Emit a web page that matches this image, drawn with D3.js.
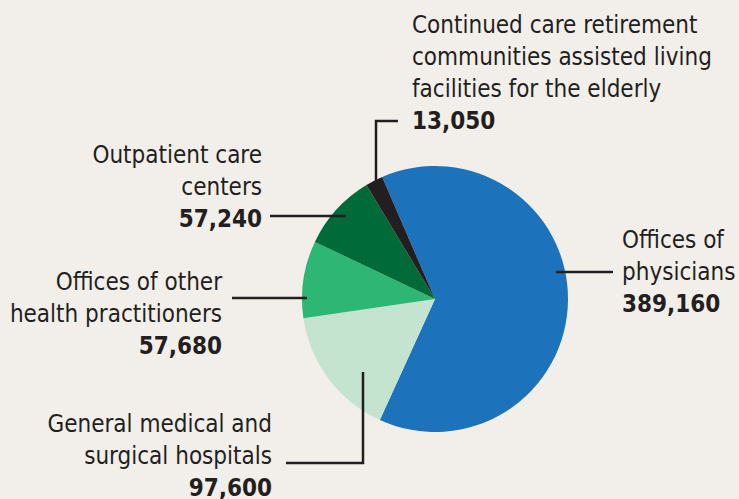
<!DOCTYPE html>
<html>
<head>
<meta charset="utf-8">
<script src="https://cdn.jsdelivr.net/npm/d3@7"></script>
<style>
  html, body { margin: 0; padding: 0; background: #f2efeb; }
  svg text { font-family: "Liberation Sans Narrow", "DejaVu Sans Condensed", sans-serif; fill: #231f20; }
</style>
</head>
<body>
<div id="chart"></div>
<script>
// Data
const categories = [
  "Offices of physicians",
  "General medical and surgical hospitals",
  "Offices of other health practitioners",
  "Outpatient care centers",
  "Continued care retirement communities assisted living facilities for the elderly"
];
const values = [389160, 97600, 57680, 57240, 13050];
const colors = ["#1c73bc", "#c5e4cf", "#2db674", "#006a38", "#231f20"];

// label text lines per slice
const labelLines = [
  ["Offices of", "physicians"],
  ["General medical and", "surgical hospitals"],
  ["Offices of other", "health practitioners"],
  ["Outpatient care", "centers"],
  ["Continued care retirement", "communities assisted living", "facilities for the elderly"]
];

const width = 739, height = 499;
const cx = 435, cy = 299, radius = 133;

const svg = d3.select("#chart")
  .append("svg")
  .attr("width", width)
  .attr("height", height);

const start = -23.4 * Math.PI / 180;
const pie = d3.pie().sort(null).startAngle(start).endAngle(start + 2 * Math.PI);
const arc = d3.arc().innerRadius(0).outerRadius(radius);

const arcs = pie(values);

svg.append("g")
  .attr("transform", `translate(${cx},${cy})`)
  .selectAll("path")
  .data(arcs)
  .enter()
  .append("path")
  .attr("d", arc)
  .attr("fill", (d, i) => colors[i]);

// label layout: anchor x, first baseline, text-anchor, leader polyline
const layout = [
  { x: 622, y: 248, anchor: "start", line: [[556, 272], [613, 272]] },
  { x: 272, y: 432, anchor: "end", line: [[286, 463], [363, 463], [363, 372]] },
  { x: 222, y: 290, anchor: "end", line: [[232, 298], [307, 298]] },
  { x: 262, y: 163, anchor: "end", line: [[270, 216], [346, 216]] },
  { x: 412, y: 33, anchor: "start", line: [[398, 121], [376, 121], [376, 182]] }
];

const lineH = 32;
const fmt = d3.format(",");

layout.forEach((l, i) => {
  svg.append("path")
    .attr("d", d3.line()(l.line))
    .attr("fill", "none")
    .attr("stroke", "#231f20")
    .attr("stroke-width", 2.5);

  const t = svg.append("text")
    .attr("text-anchor", l.anchor)
    .style("font-size", "24px");
  labelLines[i].forEach((s, j) => {
    t.append("tspan")
      .attr("x", l.x)
      .attr("y", l.y + j * lineH)
      .text(s);
  });
  t.append("tspan")
    .attr("x", l.x)
    .attr("y", l.y + labelLines[i].length * lineH)
    .style("font-weight", "bold")
    .text(fmt(values[i]));
});
</script>
</body>
</html>
